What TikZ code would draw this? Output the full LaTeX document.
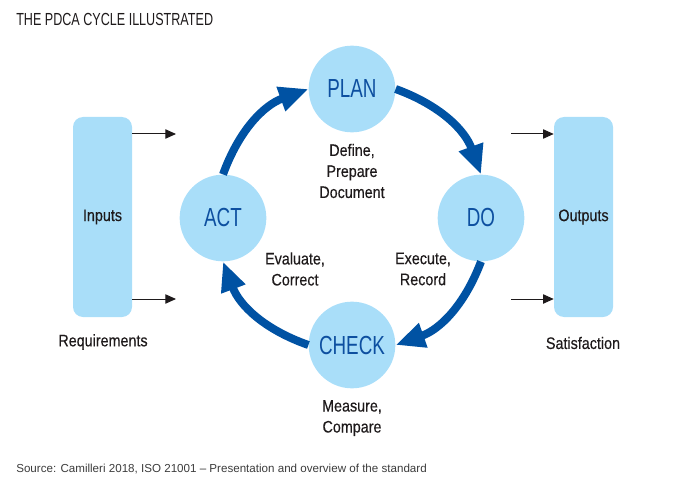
\documentclass[tikz,border=0pt]{standalone}
\usepackage{fontspec}
\setmainfont{Liberation Sans}
\newfontfamily\capsfont[FakeStretch=0.72]{Liberation Sans}
\newfontfamily\condfont[FakeStretch=0.86, FakeBold=0.35]{Liberation Sans}
\usetikzlibrary{arrows.meta}
\definecolor{cyclefill}{HTML}{A9DEF9}
\definecolor{cycleblue}{HTML}{0052A3}
\definecolor{phasetext}{HTML}{0D4FA0}
\definecolor{bodytext}{HTML}{1E1A1B}
\definecolor{sourcetext}{HTML}{3C3C3C}
\begin{document}
\begin{tikzpicture}[x=0.75pt, y=0.75pt,
    phase/.style={circle, fill=cyclefill, minimum size=65pt, inner sep=0pt, text=phasetext, font=\capsfont\fontsize{19.6}{20}\selectfont},
    block/.style={rounded corners=7.5pt, fill=cyclefill, minimum width=44.25pt, minimum height=150pt, inner sep=0pt, text=bodytext, font=\condfont\fontsize{12.5}{15.75}\selectfont},
    note/.style={align=center, inner sep=0pt, text=bodytext, font=\condfont\fontsize{12.5}{15.75}\selectfont},
    cyclearrow/.style={line width=6pt, draw=cycleblue, -{Triangle[length=22pt, width=18pt]}, bend left=25},
    feed/.style={line width=0.75pt, draw=bodytext, -{Triangle[length=8pt, width=7pt]}}]
    \useasboundingbox (0,0) rectangle (673,-495);
    \node[anchor=west, inner sep=0pt, text=bodytext, font=\capsfont\fontsize{13.1}{16}\selectfont] (title) at (16,-19) {THE PDCA CYCLE ILLUSTRATED};
    \node[phase] (plan) at (352,-89) {PLAN};
    \node[phase] (do) at (481,-218) {DO};
    \node[phase] (check) at (352,-345) {CHECK};
    \node[phase] (act) at (223,-218) {ACT};
    \draw[cyclearrow] (act.north) to (plan.west);
    \draw[cyclearrow] (plan.east) to (do.north);
    \draw[cyclearrow] (do.south) to (check.east);
    \draw[cyclearrow] (check.west) to (act.south);
    \node[note] (define) at (352,-171) {Define,\\Prepare\\Document};
    \node[note] (evaluate) at (295,-269) {Evaluate,\\Correct};
    \node[note] (execute) at (423,-269) {Execute,\\Record};
    \node[note] (measure) at (352,-418) {Measure,\\Compare};
    \node[block] (inputs) at (102.5,-217) {Inputs};
    \node[block] (outputs) at (583.5,-217) {Outputs};
    \node[note] (req) at (103,-342) {Requirements};
    \node[note] (sat) at (583,-343) {Satisfaction};
    \coordinate (in1) at (176,-134);
    \coordinate (in2) at (176,-299);
    \coordinate (out1) at (511,-134);
    \coordinate (out2) at (511,-299);
    \draw[feed] (inputs.east |- in1) -- (in1);
    \draw[feed] (inputs.east |- in2) -- (in2);
    \draw[feed] (out1) -- (outputs.west |- out1);
    \draw[feed] (out2) -- (outputs.west |- out2);
    \node[anchor=west, inner sep=0pt, text=sourcetext, font=\fontsize{8.7}{10}\selectfont] (source) at (16,-469) {Source: Camilleri 2018, ISO 21001 – Presentation and overview of the standard};
\end{tikzpicture}
\end{document}
